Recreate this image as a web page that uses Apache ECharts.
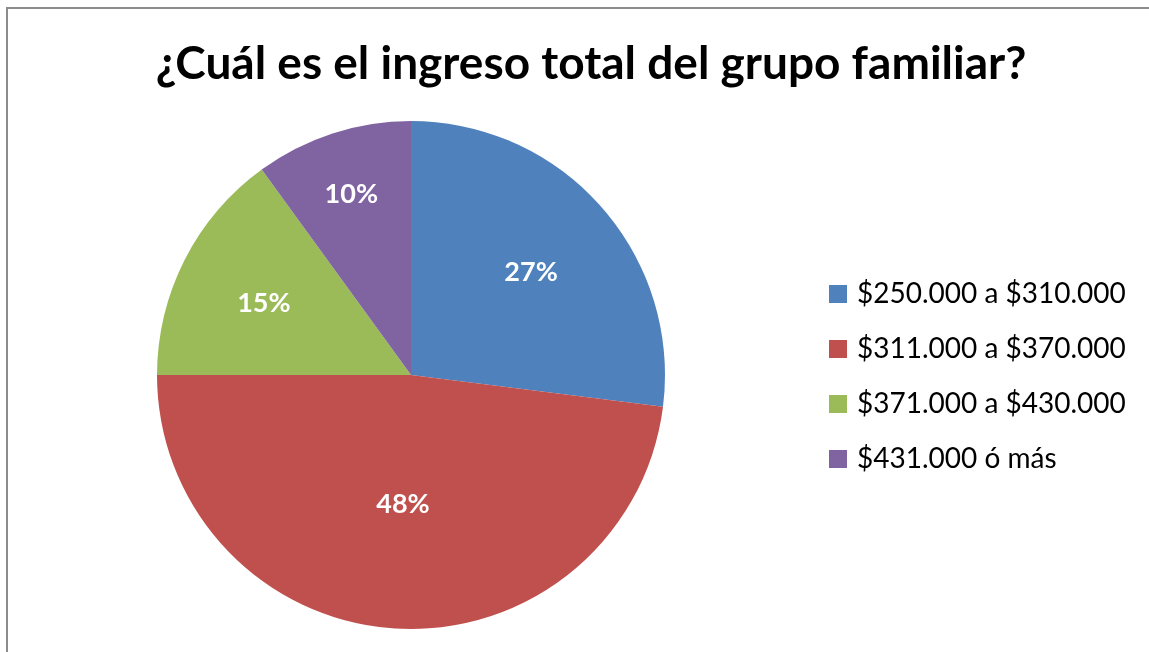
<!DOCTYPE html>
<html>
<head>
<meta charset="utf-8">
<script src="https://cdn.jsdelivr.net/npm/echarts@6/dist/echarts.min.js"></script>
<style>
  html, body { margin: 0; padding: 0; background: #fff; }
  #chart { width: 1149px; height: 652px; }
</style>
</head>
<body>
<div id="chart"></div>
<script>
const categories = ["$250.000 a $310.000", "$311.000 a $370.000", "$371.000 a $430.000", "$431.000 ó más"]
const shares = [27, 48, 15, 10]
const colors = ["#4F81BD", "#C0504D", "#9BBB59", "#8064A2"]

// how far out each label sits, as a fraction of the radius (Excel "best fit")
const labelRadius = [0.63, 0.5, 0.65, 0.76]

const pieCenter = [411, 375]
const pieRadius = 254

const chart = echarts.init(document.getElementById("chart"))

// mid angle of each slice, clockwise from 12 o'clock
const total = shares.reduce((a, b) => a + b, 0)
let acc = 0
const midAngles = shares.map((v) => {
  const mid = (acc + v / 2) / total * Math.PI * 2
  acc += v
  return mid
})

const option = {
  animation: false,
  title: {
    text: "¿Cuál es el ingreso total del grupo familiar?",
    left: 586,
    textAlign: "center",
    top: 36,
    textStyle: { fontFamily: "Lato", fontWeight: "bold", fontSize: 46, color: "#000" }
  },
  legend: {
    orient: "vertical",
    left: 829,
    top: 280,
    padding: 0,
    icon: "rect",
    itemWidth: 18,
    itemHeight: 18,
    itemGap: 27,
    data: categories,
    textStyle: { fontFamily: "Lato", fontSize: 28, lineHeight: 28, color: "#000", padding: [0, 0, 0, 5] }
  },
  graphic: [
    {
      type: "rect",
      shape: { x: 7, y: 8, width: 2000, height: 2000 },
      style: { fill: "none", stroke: "#8c8c8c", lineWidth: 2 },
      silent: true
    }
  ],
  series: [
    {
      type: "pie",
      center: pieCenter,
      radius: pieRadius,
      startAngle: 90,
      clockwise: true,
      color: colors,
      data: categories.map((name, i) => ({ name, value: shares[i] })),
      label: {
        position: "inside",
        formatter: "{c}%",
        color: "#fff",
        fontFamily: "Lato",
        fontWeight: "bold",
        fontSize: 27
      },
      labelLine: { show: false },
      labelLayout: (params) => {
        const i = params.dataIndex
        const r = pieRadius * labelRadius[i]
        return {
          x: pieCenter[0] + r * Math.sin(midAngles[i]),
          y: pieCenter[1] - r * Math.cos(midAngles[i]) + 3,
          align: "center",
          verticalAlign: "middle"
        }
      },
      itemStyle: { borderWidth: 0 }
    }
  ]
}

chart.setOption(option)
</script>
</body>
</html>
